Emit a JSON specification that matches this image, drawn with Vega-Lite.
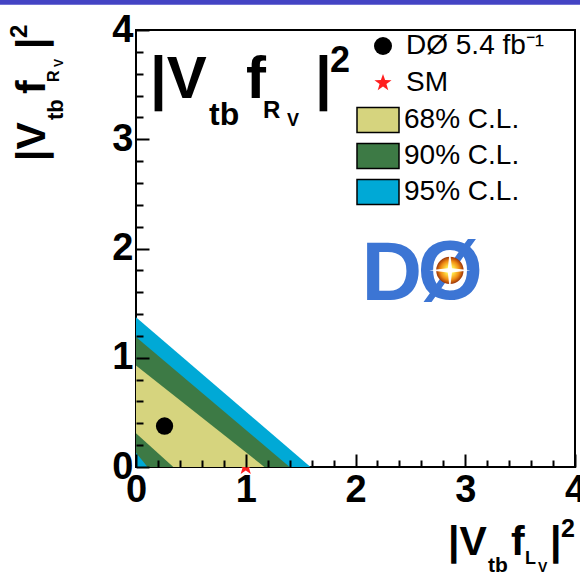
{
  "$schema": "https://vega.github.io/schema/vega-lite/v6.json",
  "width": 439,
  "height": 437,
  "autosize": "none",
  "padding": {"left": 136, "top": 30, "right": 5, "bottom": 109},
  "background": "white",
  "config": {
    "view": {"stroke": "black", "strokeWidth": 2},
    "font": "Liberation Sans"
  },
  "datasets": {
    "bands": [
      {"region": "b95o", "cl": "95% C.L.", "x": 0, "y": 1.37},
      {"region": "b95o", "cl": "95% C.L.", "x": 1.59, "y": 0},
      {"region": "b90o", "cl": "90% C.L.", "x": 0, "y": 1.19},
      {"region": "b90o", "cl": "90% C.L.", "x": 1.4, "y": 0},
      {"region": "b68", "cl": "68% C.L.", "x": 0, "y": 0.93},
      {"region": "b68", "cl": "68% C.L.", "x": 1.17, "y": 0},
      {"region": "b90i", "cl": "90% C.L.", "x": 0, "y": 0.31},
      {"region": "b90i", "cl": "90% C.L.", "x": 0.34, "y": 0},
      {"region": "b95i", "cl": "95% C.L.", "x": 0, "y": 0.13},
      {"region": "b95i", "cl": "95% C.L.", "x": 0.105, "y": 0}
    ],
    "points": [
      {"kind": "DØ 5.4 fb⁻¹", "x": 0.26, "y": 0.375},
      {"kind": "SM", "x": 1, "y": 0}
    ],
    "one": [{}]
  },
  "resolve": {"axis": {"x": "independent", "y": "independent"}},
  "layer": [
    {
      "data": {"name": "points"},
      "transform": [{"filter": "datum.kind === 'SM'"}],
      "mark": {"type": "point", "filled": true, "opacity": 1, "size": 300},
      "encoding": {
        "x": {"field": "x", "type": "quantitative", "axis": null},
        "y": {"field": "y", "type": "quantitative", "axis": null},
        "color": {
          "field": "kind", "type": "nominal",
          "scale": {"domain": ["DØ 5.4 fb⁻¹", "SM"], "range": ["black", "#ff1f1f"]},
          "legend": {"title": null, "orient": "none", "legendX": 233, "legendY": 2, "padding": 0, "symbolSize": 324, "symbolStrokeWidth": 0, "symbolOpacity": 1, "labelFontSize": 28, "labelFont": "Liberation Sans", "labelColor": "black", "labelOffset": 9, "rowPadding": 9, "labelLimit": 300}
        },
        "shape": {
          "field": "kind", "type": "nominal",
          "scale": {"domain": ["DØ 5.4 fb⁻¹", "SM"], "range": ["circle", "M0,-1L0.235,-0.324L0.951,-0.309L0.38,0.124L0.588,0.809L0,0.4L-0.588,0.809L-0.38,0.124L-0.951,-0.309L-0.235,-0.324Z"]},
          "legend": {"title": null, "orient": "none", "legendX": 233, "legendY": 2, "padding": 0, "symbolSize": 324, "symbolStrokeWidth": 0, "symbolOpacity": 1, "labelFontSize": 28, "labelFont": "Liberation Sans", "labelColor": "black", "labelOffset": 9, "rowPadding": 9, "labelLimit": 300}
        }
      }
    },
    {
      "data": {"name": "bands"},
      "transform": [{"filter": "datum.region === 'b95o'"}],
      "mark": {"type": "area", "opacity": 1},
      "encoding": {
        "x": {"field": "x", "type": "quantitative", "scale": {"domain": [0, 4], "nice": false, "zero": true},
          "axis": {"orient": "bottom", "title": null, "values": [0, 1, 2, 3, 4], "format": "d", "domain": false, "grid": false, "zindex": 1, "tickSize": -13, "tickWidth": 2, "tickColor": "black", "labelFontSize": 38, "labelFontWeight": "bold", "labelFont": "Liberation Sans", "labelColor": "black", "labelPadding": 17, "labelFlush": false, "labelOverlap": false}},
        "y": {"field": "y", "type": "quantitative", "scale": {"domain": [0, 4], "nice": false, "zero": true},
          "axis": {"orient": "left", "title": null, "values": [0, 1, 2, 3, 4], "format": "d", "domain": false, "grid": false, "zindex": 1, "tickSize": -13, "tickWidth": 2, "tickColor": "black", "labelFontSize": 38, "labelFontWeight": "bold", "labelFont": "Liberation Sans", "labelColor": "black", "labelPadding": 16, "labelFlush": false, "labelOverlap": false}},
        "fill": {
          "field": "cl", "type": "nominal",
          "scale": {"domain": ["68% C.L.", "90% C.L.", "95% C.L."], "range": ["#d6d47e", "#3d7a45", "#00a9d6"]},
          "legend": {"title": null, "orient": "none", "legendX": 227, "legendY": 75, "padding": 0, "symbolType": "M-1.5,-0.9H1.5V0.9H-1.5Z", "symbolSize": 784, "symbolStrokeColor": "black", "symbolStrokeWidth": 1.5, "symbolOpacity": 1, "labelFontSize": 28, "labelFont": "Liberation Sans", "labelColor": "black", "labelOffset": 11, "rowPadding": 4, "labelLimit": 300}
        }
      }
    },
    {
      "data": {"name": "bands"},
      "transform": [{"filter": "datum.region === 'b90o'"}],
      "mark": {"type": "area", "opacity": 1},
      "encoding": {
        "x": {"field": "x", "type": "quantitative", "axis": null},
        "y": {"field": "y", "type": "quantitative", "axis": null},
        "fill": {"field": "cl", "type": "nominal", "legend": null}
      }
    },
    {
      "data": {"name": "bands"},
      "transform": [{"filter": "datum.region === 'b68'"}],
      "mark": {"type": "area", "opacity": 1},
      "encoding": {
        "x": {"field": "x", "type": "quantitative", "axis": null},
        "y": {"field": "y", "type": "quantitative", "axis": null},
        "fill": {"field": "cl", "type": "nominal", "legend": null}
      }
    },
    {
      "data": {"name": "bands"},
      "transform": [{"filter": "datum.region === 'b90i'"}],
      "mark": {"type": "area", "opacity": 1},
      "encoding": {
        "x": {"field": "x", "type": "quantitative", "axis": null},
        "y": {"field": "y", "type": "quantitative", "axis": null},
        "fill": {"field": "cl", "type": "nominal", "legend": null}
      }
    },
    {
      "data": {"name": "bands"},
      "transform": [{"filter": "datum.region === 'b95i'"}],
      "mark": {"type": "area", "opacity": 1},
      "encoding": {
        "x": {"field": "x", "type": "quantitative", "axis": null},
        "y": {"field": "y", "type": "quantitative", "axis": null},
        "fill": {"field": "cl", "type": "nominal", "legend": null}
      }
    },
    {
      "data": {"name": "points"},
      "transform": [{"filter": "datum.kind !== 'SM'"}],
      "mark": {"type": "point", "filled": true, "opacity": 1, "size": 300},
      "encoding": {
        "x": {"field": "x", "type": "quantitative", "axis": null},
        "y": {"field": "y", "type": "quantitative", "axis": null},
        "color": {"field": "kind", "type": "nominal", "legend": null},
        "shape": {"field": "kind", "type": "nominal", "legend": null}
      }
    },
    {
      "data": {"name": "one"},
      "mark": {"type": "text", "text": "D", "font": "Liberation Sans", "fontWeight": "bold", "fontSize": 84, "align": "left", "baseline": "alphabetic", "dx": 6, "dy": -3, "color": "#3c75d4"},
      "encoding": {"x": {"datum": 2, "axis": null}, "y": {"datum": 1.5, "axis": null}}
    },
    {
      "data": {"name": "one"},
      "mark": {"type": "text", "text": "Ø", "font": "Liberation Sans", "fontWeight": "bold", "fontSize": 84, "align": "left", "baseline": "alphabetic", "dx": 62, "dy": -3, "color": "#3c75d4"},
      "encoding": {"x": {"datum": 2, "axis": null}, "y": {"datum": 1.5, "axis": null}}
    },
    {
      "data": {"name": "one"},
      "mark": {"type": "point", "filled": true, "opacity": 1, "size": 750, "fill": {"gradient": "radial", "stops": [{"offset": 0, "color": "#ffffff"}, {"offset": 0.3, "color": "#ffe84a"}, {"offset": 0.7, "color": "#f08a12"}, {"offset": 1, "color": "#9a3308"}]}},
      "encoding": {"x": {"datum": 2.86, "axis": null}, "y": {"datum": 1.8, "axis": null}}
    },
    {
      "data": {"name": "one"},
      "mark": {"type": "point", "filled": true, "opacity": 0.95, "size": 1700, "color": "white", "shape": "M0,-1L0.1,-0.1L1,0L0.1,0.1L0,1L-0.1,0.1L-1,0L-0.1,-0.1Z"},
      "encoding": {"x": {"datum": 2.86, "axis": null}, "y": {"datum": 1.8, "axis": null}}
    },
    {
      "data": {"name": "one"},
      "mark": {"type": "text", "text": "|V", "font": "Liberation Sans", "fontWeight": "bold", "fontSize": 60, "align": "left", "baseline": "alphabetic", "dx": 14, "dy": 68, "color": "black"},
      "encoding": {"x": {"datum": 0, "axis": null}, "y": {"datum": 4, "axis": null}}
    },
    {
      "data": {"name": "one"},
      "mark": {"type": "text", "text": "tb", "font": "Liberation Sans", "fontWeight": "bold", "fontSize": 32, "align": "left", "baseline": "alphabetic", "dx": 73, "dy": 95, "color": "black"},
      "encoding": {"x": {"datum": 0, "axis": null}, "y": {"datum": 4, "axis": null}}
    },
    {
      "data": {"name": "one"},
      "mark": {"type": "text", "text": "f", "font": "Liberation Sans", "fontWeight": "bold", "fontSize": 60, "align": "left", "baseline": "alphabetic", "dx": 110, "dy": 68, "color": "black"},
      "encoding": {"x": {"datum": 0, "axis": null}, "y": {"datum": 4, "axis": null}}
    },
    {
      "data": {"name": "one"},
      "mark": {"type": "text", "text": "R", "font": "Liberation Sans", "fontWeight": "bold", "fontSize": 24, "align": "left", "baseline": "alphabetic", "dx": 127, "dy": 88, "color": "black"},
      "encoding": {"x": {"datum": 0, "axis": null}, "y": {"datum": 4, "axis": null}}
    },
    {
      "data": {"name": "one"},
      "mark": {"type": "text", "text": "V", "font": "Liberation Sans", "fontWeight": "bold", "fontSize": 18, "align": "left", "baseline": "alphabetic", "dx": 151, "dy": 96, "color": "black"},
      "encoding": {"x": {"datum": 0, "axis": null}, "y": {"datum": 4, "axis": null}}
    },
    {
      "data": {"name": "one"},
      "mark": {"type": "text", "text": "|", "font": "Liberation Sans", "fontWeight": "bold", "fontSize": 60, "align": "left", "baseline": "alphabetic", "dx": 179, "dy": 68, "color": "black"},
      "encoding": {"x": {"datum": 0, "axis": null}, "y": {"datum": 4, "axis": null}}
    },
    {
      "data": {"name": "one"},
      "mark": {"type": "text", "text": "2", "font": "Liberation Sans", "fontWeight": "bold", "fontSize": 36, "align": "left", "baseline": "alphabetic", "dx": 194, "dy": 42, "color": "black"},
      "encoding": {"x": {"datum": 0, "axis": null}, "y": {"datum": 4, "axis": null}}
    },
    {
      "data": {"name": "one"},
      "mark": {"type": "text", "text": "|V", "font": "Liberation Sans", "fontWeight": "bold", "fontSize": 41, "align": "left", "baseline": "alphabetic", "dx": -127, "dy": 88, "color": "black"},
      "encoding": {"x": {"datum": 4, "axis": null}, "y": {"datum": 0, "axis": null}}
    },
    {
      "data": {"name": "one"},
      "mark": {"type": "text", "text": "tb", "font": "Liberation Sans", "fontWeight": "bold", "fontSize": 21, "align": "left", "baseline": "alphabetic", "dx": -87, "dy": 105, "color": "black"},
      "encoding": {"x": {"datum": 4, "axis": null}, "y": {"datum": 0, "axis": null}}
    },
    {
      "data": {"name": "one"},
      "mark": {"type": "text", "text": "f", "font": "Liberation Sans", "fontWeight": "bold", "fontSize": 41, "align": "left", "baseline": "alphabetic", "dx": -64, "dy": 88, "color": "black"},
      "encoding": {"x": {"datum": 4, "axis": null}, "y": {"datum": 0, "axis": null}}
    },
    {
      "data": {"name": "one"},
      "mark": {"type": "text", "text": "L", "font": "Liberation Sans", "fontWeight": "bold", "fontSize": 18, "align": "left", "baseline": "alphabetic", "dx": -50, "dy": 97, "color": "black"},
      "encoding": {"x": {"datum": 4, "axis": null}, "y": {"datum": 0, "axis": null}}
    },
    {
      "data": {"name": "one"},
      "mark": {"type": "text", "text": "V", "font": "Liberation Sans", "fontWeight": "bold", "fontSize": 14, "align": "left", "baseline": "alphabetic", "dx": -37, "dy": 105, "color": "black"},
      "encoding": {"x": {"datum": 4, "axis": null}, "y": {"datum": 0, "axis": null}}
    },
    {
      "data": {"name": "one"},
      "mark": {"type": "text", "text": "|", "font": "Liberation Sans", "fontWeight": "bold", "fontSize": 41, "align": "left", "baseline": "alphabetic", "dx": -25, "dy": 88, "color": "black"},
      "encoding": {"x": {"datum": 4, "axis": null}, "y": {"datum": 0, "axis": null}}
    },
    {
      "data": {"name": "one"},
      "mark": {"type": "text", "text": "2", "font": "Liberation Sans", "fontWeight": "bold", "fontSize": 25, "align": "left", "baseline": "alphabetic", "dx": -14, "dy": 70, "color": "black"},
      "encoding": {"x": {"datum": 4, "axis": null}, "y": {"datum": 0, "axis": null}}
    },
    {
      "data": {"name": "one"},
      "mark": {"type": "text", "text": "|V", "angle": 270, "font": "Liberation Sans", "fontWeight": "bold", "fontSize": 41, "align": "left", "baseline": "alphabetic", "dx": 306, "dy": -91, "color": "black"},
      "encoding": {"x": {"datum": 0, "axis": null}, "y": {"datum": 0, "axis": null}}
    },
    {
      "data": {"name": "one"},
      "mark": {"type": "text", "text": "tb", "angle": 270, "font": "Liberation Sans", "fontWeight": "bold", "fontSize": 22, "align": "left", "baseline": "alphabetic", "dx": 347, "dy": -73, "color": "black"},
      "encoding": {"x": {"datum": 0, "axis": null}, "y": {"datum": 0, "axis": null}}
    },
    {
      "data": {"name": "one"},
      "mark": {"type": "text", "text": "f", "angle": 270, "font": "Liberation Sans", "fontWeight": "bold", "fontSize": 41, "align": "left", "baseline": "alphabetic", "dx": 373, "dy": -91, "color": "black"},
      "encoding": {"x": {"datum": 0, "axis": null}, "y": {"datum": 0, "axis": null}}
    },
    {
      "data": {"name": "one"},
      "mark": {"type": "text", "text": "R", "angle": 270, "font": "Liberation Sans", "fontWeight": "bold", "fontSize": 16, "align": "left", "baseline": "alphabetic", "dx": 385, "dy": -77, "color": "black"},
      "encoding": {"x": {"datum": 0, "axis": null}, "y": {"datum": 0, "axis": null}}
    },
    {
      "data": {"name": "one"},
      "mark": {"type": "text", "text": "V", "angle": 270, "font": "Liberation Sans", "fontWeight": "bold", "fontSize": 12, "align": "left", "baseline": "alphabetic", "dx": 400, "dy": -73, "color": "black"},
      "encoding": {"x": {"datum": 0, "axis": null}, "y": {"datum": 0, "axis": null}}
    },
    {
      "data": {"name": "one"},
      "mark": {"type": "text", "text": "|", "angle": 270, "font": "Liberation Sans", "fontWeight": "bold", "fontSize": 41, "align": "left", "baseline": "alphabetic", "dx": 418, "dy": -91, "color": "black"},
      "encoding": {"x": {"datum": 0, "axis": null}, "y": {"datum": 0, "axis": null}}
    },
    {
      "data": {"name": "one"},
      "mark": {"type": "text", "text": "2", "angle": 270, "font": "Liberation Sans", "fontWeight": "bold", "fontSize": 24, "align": "left", "baseline": "alphabetic", "dx": 429, "dy": -109, "color": "black"},
      "encoding": {"x": {"datum": 0, "axis": null}, "y": {"datum": 0, "axis": null}}
    },
    {
      "data": {"name": "one"},
      "mark": {"type": "rule", "strokeWidth": 5, "color": "#4444c4"},
      "encoding": {"x": {"datum": -1.25, "axis": null}, "x2": {"datum": 4.06}, "y": {"datum": 4.255, "axis": null}}
    },
    {
      "data": {"values": [{"v": 0}]},
      "mark": {"type": "point", "opacity": 0},
      "encoding": {
        "x": {"field": "v", "type": "quantitative", "scale": {"domain": [0, 4], "nice": false},
          "axis": {"orient": "bottom", "title": null, "values": [0.2, 0.4, 0.6, 0.8, 1.2, 1.4, 1.6, 1.8, 2.2, 2.4, 2.6, 2.8, 3.2, 3.4, 3.6, 3.8], "labels": false, "domain": false, "grid": false, "zindex": 1, "tickSize": -7, "tickWidth": 2, "tickColor": "black"}},
        "y": {"field": "v", "type": "quantitative", "scale": {"domain": [0, 4], "nice": false},
          "axis": {"orient": "left", "title": null, "values": [0.2, 0.4, 0.6, 0.8, 1.2, 1.4, 1.6, 1.8, 2.2, 2.4, 2.6, 2.8, 3.2, 3.4, 3.6, 3.8], "labels": false, "domain": false, "grid": false, "zindex": 1, "tickSize": -7, "tickWidth": 2, "tickColor": "black"}}
      }
    }
  ]
}
